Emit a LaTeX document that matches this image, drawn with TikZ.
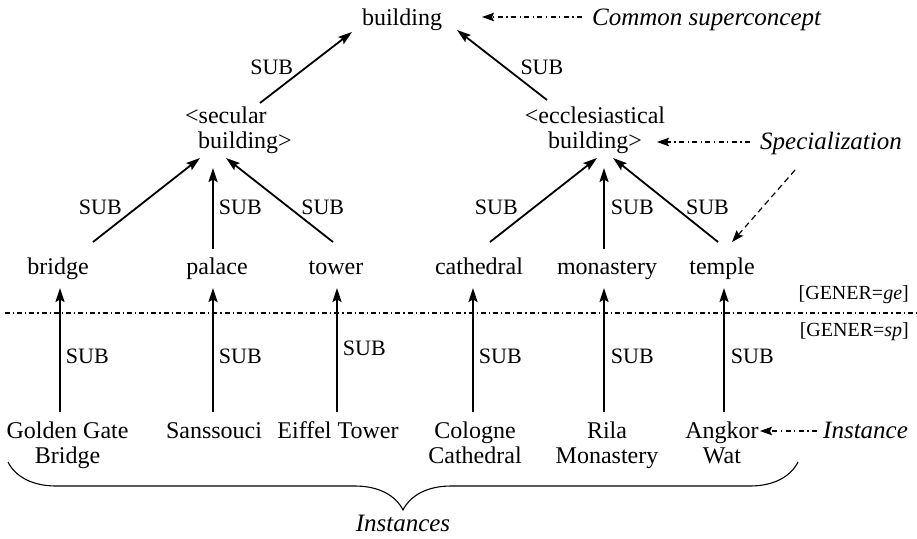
\documentclass[tikz,border=0pt]{standalone}
\usepackage{fontspec}
\setmainfont{Liberation Serif}
\usetikzlibrary{arrows.meta,calc,decorations.pathreplacing}
\begin{document}
\begin{tikzpicture}[x=1pt,y=-1pt,
  word/.style={inner sep=0pt, font=\fontsize{24}{25}\selectfont, text height=16.4pt, text depth=5.2pt},
  multi/.style={inner sep=0pt, font=\fontsize{24}{25}\selectfont},
  note/.style={inner sep=0pt, font=\fontsize{25}{26}\selectfont\itshape, text height=17pt, text depth=5.4pt},
  sublab/.style={inner sep=0pt, font=\fontsize{22}{24}\selectfont},
  genlab/.style={inner sep=0pt, font=\fontsize{20}{22}\selectfont},
  sub/.style={line width=1.8pt, -{Stealth[length=14pt,width=9pt,inset=2.5pt]}},
  pointer/.style={line width=1.2pt, dash pattern=on 5pt off 3.5pt on 1.2pt off 3.5pt,
    -{Stealth[length=12pt,width=8.5pt,inset=2pt]}},
  spechint/.style={line width=1.2pt, dash pattern=on 6pt off 4pt,
    -{Stealth[length=12pt,width=8.5pt,inset=2pt]}},
  separator/.style={line width=1.1pt, dash pattern=on 5pt off 3pt on 1.2pt off 3pt},
]
\useasboundingbox (0,0) rectangle (917,538);

% concept hierarchy
\node[word, anchor=base] (top) at (402,25) {building};
\node[multi, align=left, anchor=north west] (sec) at (185,106.6) {<secular\\\hspace*{13pt}building>};
\node[multi, align=center, anchor=north] (ecc) at (595,106.6) {<ecclesiastical\\building>};

\node[word, anchor=base] (bridge) at (58,274) {bridge};
\node[word, anchor=base] (palace) at (217,274) {palace};
\node[word, anchor=base] (tower) at (336,274) {tower};
\node[word, anchor=base] (cathedral) at (479,274) {cathedral};
\node[word, anchor=base] (monastery) at (607,274) {monastery};
\node[word, anchor=base] (temple) at (722,274) {temple};

% instances
\node[multi, align=center, anchor=north] (ggb) at (67.5,421.6) {Golden Gate\\Bridge};
\node[word, anchor=base] (sans) at (214,438) {Sanssouci};
\node[word, anchor=base] (eiffel) at (338,438) {Eiffel Tower};
\node[multi, align=center, anchor=north] (cologne) at (475,421.6) {Cologne\\Cathedral};
\node[multi, align=center, anchor=north] (rila) at (607,421.6) {Rila\\Monastery};
\node[multi, align=center, anchor=north] (angkor) at (722,421.6) {Angkor\\Wat};

% annotations
\node[note, anchor=base west] (cs) at (592,25) {Common superconcept};
\node[note, anchor=base west] (spec) at (760,149) {Specialization};
\node[note, anchor=base west] (inst) at (823,438) {Instance};
\node[genlab, anchor=base east] (ge) at (909,299) {[GENER=\textit{ge}]};
\node[genlab, anchor=base east] (sp) at (909,336) {[GENER=\textit{sp}]};
\node[note, anchor=base] (insts) at (403,531) {Instances};

% columns of the instance arrows
\coordinate (c1) at (60,0);
\coordinate (c2) at (213,0);
\coordinate (c3) at (337,0);
\coordinate (c4) at (473,0);
\coordinate (c5) at (604,0);
\coordinate (c6) at (724,0);

% top level
\draw[sub] ($(sec.north west)+(75,-3.6)$) -- ($(top.base)+(-50,7)$)
  node[sublab, pos=0.5, left=12pt] {SUB};
\draw[sub] ($(ecc.north)+(-48,-6.6)$) -- ($(top.base)+(55,5)$)
  node[sublab, pos=0.46, right=14pt] {SUB};

% middle level
\draw[sub] ($(bridge.base)+(35,-32)$) -- ($(sec.north west)+(15,51.4)$)
  node[sublab, pos=0.417, left=15pt] {SUB};
\draw[sub] ($(palace.base)+(-4,-25)$) -- ($(sec.north west)+(28,61.4)$)
  node[sublab, pos=0.52, right=5pt] {SUB};
\draw[sub] ($(tower.base)+(-3,-32)$) -- ($(sec.north west)+(41,51.4)$)
  node[sublab, pos=0.417, right=12pt] {SUB};
\draw[sub] ($(cathedral.base)+(11,-32)$) -- ($(ecc.north)+(2,51.4)$)
  node[sublab, pos=0.417, left=16pt] {SUB};
\draw[sub] ($(monastery.base)+(-3,-25)$) -- ($(ecc.north)+(9,61.4)$)
  node[sublab, pos=0.52, right=6pt] {SUB};
\draw[sub] ($(temple.base)+(-4,-32)$) -- ($(ecc.north)+(18,51.4)$)
  node[sublab, pos=0.417, right=11pt] {SUB};

% instance level
\draw[sub] ($(ggb.north -| c1)+(0,-9.6)$) -- ($(bridge.base -| c1)+(0,14)$)
  node[sublab, pos=0.452, right=5pt] {SUB};
\draw[sub] ($(sans.north -| c2)+(0,-9.6)$) -- ($(palace.base -| c2)+(0,14)$)
  node[sublab, pos=0.452, right=5pt] {SUB};
\draw[sub] ($(eiffel.north -| c3)+(0,-9.6)$) -- ($(tower.base -| c3)+(0,14)$)
  node[sublab, pos=0.516, right=5pt] {SUB};
\draw[sub] ($(cologne.north -| c4)+(0,-9.6)$) -- ($(cathedral.base -| c4)+(0,14)$)
  node[sublab, pos=0.452, right=5pt] {SUB};
\draw[sub] ($(rila.north -| c5)+(0,-9.6)$) -- ($(monastery.base -| c5)+(0,14)$)
  node[sublab, pos=0.452, right=6pt] {SUB};
\draw[sub] ($(angkor.north -| c6)+(0,-9.6)$) -- ($(temple.base -| c6)+(0,14)$)
  node[sublab, pos=0.452, right=6pt] {SUB};

% annotation pointers
\draw[pointer] ($(cs.base west)+(-10,-8)$) -- ($(top.base)+(80,-8)$);
\draw[pointer] ($(spec.base west)+(-10,-7)$) -- ($(ecc.north)+(62,35.4)$);
\draw[spechint] ($(spec.base west)+(35,21)$) -- ($(temple.base)+(10,-32)$);
\draw[pointer] ($(inst.base west)+(-6,-7)$) -- ($(angkor.north)+(38,9.4)$);

% generality boundary
\draw[separator] (5,313) -- (917,313);

% brace over the instances
\draw[line width=1.1pt, decorate, decoration={brace, mirror, amplitude=48pt}] (8,462) -- (798,462);
\end{tikzpicture}
\end{document}
